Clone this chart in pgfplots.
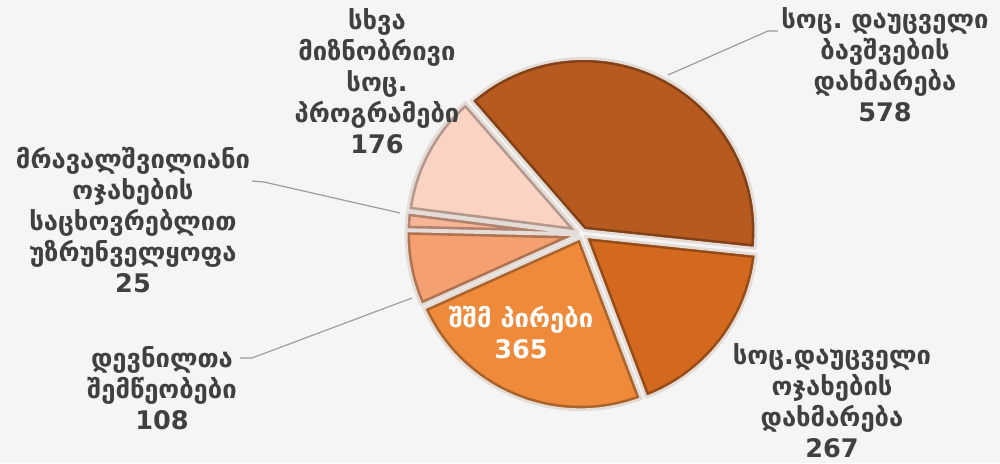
\documentclass[border=0pt]{standalone}
\usepackage{fontspec}
\setmainfont{DejaVu Sans}
\usepackage{pgfplots}
\usepackage{pgfplotstable}
\pgfplotsset{compat=1.18}
\frenchspacing

\definecolor{bg}{HTML}{F5F5F5}
\definecolor{txt}{HTML}{404040}
\definecolor{cA}{HTML}{B65A20}
\definecolor{cB}{HTML}{D2691F}
\definecolor{cC}{HTML}{EE8A3A}
\definecolor{cD}{HTML}{F4A070}
\definecolor{cE}{HTML}{F6B597}
\definecolor{cF}{HTML}{FAD3C3}
\definecolor{leader}{HTML}{9C9C9C}
\definecolor{rim}{HTML}{E4DCD6}

% clockwise from the top-left boundary
\pgfplotstableread{
value
578
267
365
108
25
176
}\piedata

\newcommand\getval[2]{\pgfplotstablegetelem{#1}{value}\of\piedata\global\let#2\pgfplotsretval}
\newcommand\sectorpath[2]{(axis cs:582,229) -- ++(#1:86pt) arc[start angle=#1, end angle=#2, radius=86pt] -- cycle}
\newcommand\slice[3]{%
  \begin{scope}[shift={({(#1+#2)/2}:2pt)}]
    \begin{scope}
      \clip \sectorpath{#1}{#2};
      \fill[#3] \sectorpath{#1}{#2};
      \draw[#3!72!black, line width=4pt] \sectorpath{#1}{#2};
    \end{scope}
    \draw[rim, line width=1.4pt, line join=round] \sectorpath{#1}{#2};
  \end{scope}}

\tikzset{lbl/.style={align=center, text=txt, inner sep=0pt,
    font=\fontsize{12.8}{15.5}\selectfont\bfseries}}

\begin{document}
\begin{tikzpicture}
\getval{0}\va \getval{1}\vb \getval{2}\vc
\getval{3}\vd \getval{4}\ve \getval{5}\vf
\pgfmathsetmacro\total{\va+\vb+\vc+\vd+\ve+\vf}
\pgfmathsetmacro\aA{131}
\pgfmathsetmacro\aB{\aA-360*(\va/\total)}
\pgfmathsetmacro\aC{\aB-360*(\vb/\total)}
\pgfmathsetmacro\aD{\aC-360*(\vc/\total)}
\pgfmathsetmacro\aE{\aD-360*(\vd/\total)}
\pgfmathsetmacro\aF{\aE-360*(\ve/\total)}
\pgfmathsetmacro\aG{\aF-360*(\vf/\total)}
\begin{axis}[
  width=500pt, height=231.5pt, scale only axis,
  xmin=0, xmax=1000, ymin=0, ymax=463,
  hide axis,
]
\fill[bg] (axis cs:0,0) rectangle (axis cs:1000,463);

\slice{\aA}{\aB}{cA}
\slice{\aB}{\aC}{cB}
\slice{\aC}{\aD}{cC}
\slice{\aD}{\aE}{cD}
\slice{\aE}{\aF}{cE}
\slice{\aF}{\aG}{cF}

% leader lines
\draw[leader, line width=0.6pt] (axis cs:778,432) -- (axis cs:768,432) -- (axis cs:668,388);
\draw[leader, line width=0.6pt] (axis cs:252,282) -- (axis cs:264,281) -- (axis cs:400,250);
\draw[leader, line width=0.6pt] (axis cs:240,105) -- (axis cs:252,105) -- (axis cs:412,165);

% labels
\node[lbl] at (axis cs:885,398) {სოც. დაუცველი\\ბავშვების\\დახმარება\\\va};
\node[lbl] at (axis cs:832,62) {სოც.დაუცველი\\ოჯახების\\დახმარება\\\vb};
\node[lbl, text=white] at (axis cs:521,130) {შშმ პირები\\\vc};
\node[lbl] at (axis cs:162,75) {დევნილთა\\შემწეობები\\\vd};
\node[lbl] at (axis cs:133,243) {მრავალშვილიანი\\ოჯახების\\საცხოვრებლით\\უზრუნველყოფა\\\ve};
\node[lbl] at (axis cs:377,382) {სხვა\\მიზნობრივი\\სოც.\\პროგრამები\\\vf};
\end{axis}
\end{tikzpicture}
\end{document}
